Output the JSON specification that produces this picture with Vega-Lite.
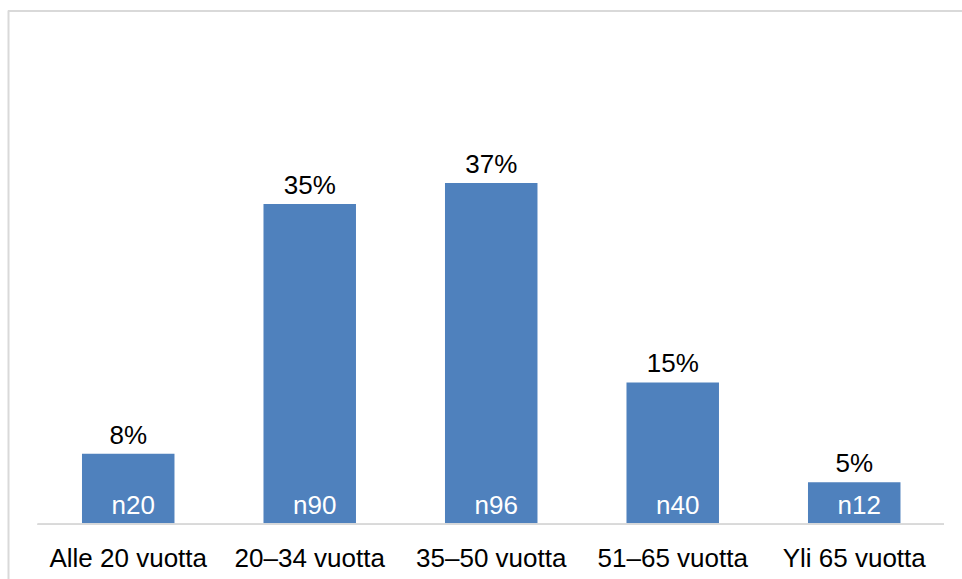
{
  "$schema": "https://vega.github.io/schema/vega-lite/v6.json",
  "autosize": "none",
  "width": 954,
  "height": 569,
  "padding": {"left": 8, "top": 10, "right": 0, "bottom": 0},
  "background": "white",
  "config": {
    "view": {"stroke": null},
    "font": "Liberation Sans",
    "text": {"font": "Liberation Sans"},
    "axis": {"grid": false}
  },
  "data": {
    "values": [
      {"group": "Alle 20 vuotta", "value": 7.7, "label": "8%", "n": "n20"},
      {"group": "20–34 vuotta", "value": 35.0, "label": "35%", "n": "n90"},
      {"group": "35–50 vuotta", "value": 37.3, "label": "37%", "n": "n96"},
      {"group": "51–65 vuotta", "value": 15.5, "label": "15%", "n": "n40"},
      {"group": "Yli 65 vuotta", "value": 4.6, "label": "5%", "n": "n12"}
    ]
  },
  "layer": [
    {
      "mark": {"type": "bar", "color": "#4f81bd"},
      "encoding": {
        "x": {
          "field": "group",
          "type": "nominal",
          "sort": null,
          "scale": {"paddingInner": 0.4904, "paddingOuter": 0.3733, "align": 0.546},
          "axis": {
            "orient": "bottom",
            "offset": -54.7,
            "title": null,
            "domain": false,
            "ticks": false,
            "tickSize": 0,
            "grid": false,
            "labelAngle": 0,
            "labelFont": "Liberation Sans",
            "labelFontSize": 26,
            "labelColor": "#000000",
            "labelBaseline": "alphabetic",
            "labelPadding": 41.7,
            "labelOverlap": false,
            "labelLimit": 0
          }
        },
        "y": {
          "field": "value",
          "type": "quantitative",
          "scale": {"domain": [-5.98, 56.21], "nice": false, "zero": false},
          "axis": {
            "orient": "left",
            "title": null,
            "labels": false,
            "ticks": false,
            "grid": false,
            "domain": true,
            "domainColor": "#d9d9d9",
            "domainWidth": 2
          }
        },
        "y2": {"datum": 0}
      }
    },
    {
      "mark": {"type": "rule", "color": "#d9d9d9", "strokeWidth": 1.5},
      "encoding": {
        "x": {"datum": "Alle 20 vuotta", "type": "nominal", "bandPosition": -0.479},
        "x2": {"datum": "Yli 65 vuotta", "bandPosition": 1.47},
        "y": {"datum": 0, "type": "quantitative"}
      }
    },
    {
      "mark": {"type": "rule", "color": "#d9d9d9", "strokeWidth": 2},
      "encoding": {
        "y": {"datum": 56.1, "type": "quantitative"}
      }
    },
    {
      "mark": {"type": "text", "fontSize": 26, "color": "#000000", "baseline": "alphabetic", "align": "center", "dy": -10},
      "encoding": {
        "x": {"field": "group", "type": "nominal", "sort": null, "bandPosition": 0.5},
        "y": {"field": "value", "type": "quantitative"},
        "text": {"field": "label"}
      }
    },
    {
      "mark": {"type": "text", "fontSize": 26, "color": "#ffffff", "baseline": "alphabetic", "align": "center", "dy": -10, "dx": 5},
      "encoding": {
        "x": {"field": "group", "type": "nominal", "sort": null, "bandPosition": 0.5},
        "y": {"datum": 0, "type": "quantitative"},
        "text": {"field": "n"}
      }
    }
  ]
}
